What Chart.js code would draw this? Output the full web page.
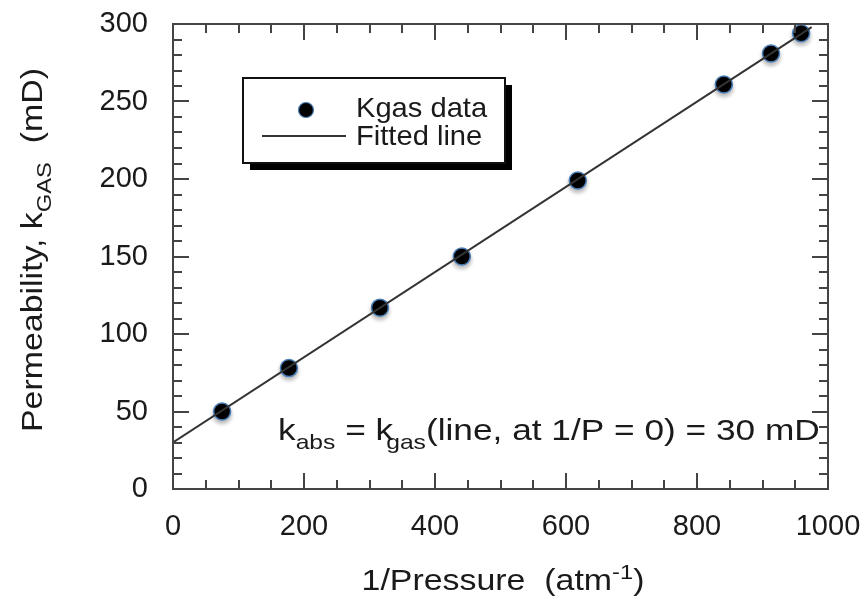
<!DOCTYPE html>
<html>
<head>
<meta charset="utf-8">
<script src="https://cdn.jsdelivr.net/npm/chart.js@4/dist/chart.umd.min.js"></script>
<style>
  html, body { margin: 0; padding: 0; background: #fff; }
  #wrap { width: 867px; height: 597px; }
</style>
</head>
<body>
<div id="wrap"><canvas id="chart-area"></canvas></div>
<script>
// data
var invPressure = [75, 177, 316, 441, 618, 841, 913, 959];
var kGas = [50, 78, 117, 150, 199, 261, 281, 294];
var fitX = [0, 975];
var fitY = [30, 298];
var xTicks = [0, 200, 400, 600, 800, 1000];
var yTicks = [0, 50, 100, 150, 200, 250, 300];
var legendLabels = ['Kgas data', 'Fitted line'];

var FONT = '"Liberation Sans", Arial, sans-serif';
var INK = '#1a1a1a';

function pairs(xs, ys) {
    return xs.map(function(x, i) { return {x: x, y: ys[i]}; });
}

// text with sub/superscripts: parts = [text, mode(0 normal,1 sub,2 sup), dx]
function drawRich(ctx, parts, size, sx, align) {
    var small = Math.round(size * 0.7);
    function fontOf(p) { return (p[1] ? small : size) + 'px ' + FONT; }
    var w = 0;
    parts.forEach(function(p) {
        ctx.font = fontOf(p);
        w += ctx.measureText(p[0]).width + (p[2] || 0);
    });
    ctx.save();
    ctx.scale(sx, 1);
    var cx = align === 'center' ? -w / 2 : 0;
    ctx.textBaseline = 'alphabetic';
    ctx.textAlign = 'left';
    parts.forEach(function(p) {
        ctx.font = fontOf(p);
        cx += (p[2] || 0);
        var dy = p[1] === 1 ? size * 0.3 : (p[1] === 2 ? -size * 0.38 : 0);
        ctx.fillText(p[0], cx, dy);
        cx += ctx.measureText(p[0]).width;
    });
    ctx.restore();
}

function noPad(scale) {
    scale.paddingLeft = 0;
    scale.paddingRight = 0;
    scale.paddingTop = 0;
    scale.paddingBottom = 0;
}

var decorPlugin = {
    id: 'decor',
    beforeDatasetDraw: function(chart, args) {
        if (args.index === 1) {
            var ctx = chart.ctx;
            ctx.save();
            ctx.shadowColor = 'rgba(0,0,0,0.28)';
            ctx.shadowBlur = 4;
            ctx.shadowOffsetY = 3;
        }
    },
    afterDatasetDraw: function(chart, args) {
        if (args.index === 1) chart.ctx.restore();
    },
    afterDraw: function(chart) {
        var ctx = chart.ctx;
        var a = chart.chartArea;
        var xs = chart.scales.x, ys = chart.scales.y;
        ctx.save();
        ctx.strokeStyle = '#444';
        ctx.lineWidth = 2;
        ctx.strokeRect(a.left, a.top, a.right - a.left, a.bottom - a.top);

        // inward ticks on all four sides
        ctx.beginPath();
        var v, px, len;
        for (v = 0; v <= 1000; v += 50) {
            px = Math.round(xs.getPixelForValue(v));
            len = v % 200 === 0 ? 16 : 9;
            ctx.moveTo(px, a.bottom); ctx.lineTo(px, a.bottom - len);
            ctx.moveTo(px, a.top); ctx.lineTo(px, a.top + len);
        }
        for (v = 0; v <= 300; v += 10) {
            px = Math.round(ys.getPixelForValue(v));
            len = v % 50 === 0 ? 16 : 9;
            ctx.moveTo(a.left, px); ctx.lineTo(a.left + len, px);
            ctx.moveTo(a.right, px); ctx.lineTo(a.right - len, px);
        }
        ctx.stroke();

        // legend box with drop shadow
        var bx = 243, by = 78, bw = 262, bh = 85;
        ctx.fillStyle = '#000';
        ctx.fillRect(bx + 7, by + 7, bw, bh);
        ctx.fillStyle = '#fff';
        ctx.fillRect(bx, by, bw, bh);
        ctx.strokeStyle = '#111';
        ctx.lineWidth = 2;
        ctx.strokeRect(bx, by, bw, bh);

        ctx.beginPath();
        ctx.arc(306, 110, 7.5, 0, Math.PI * 2);
        ctx.fillStyle = '#000';
        ctx.fill();
        ctx.strokeStyle = '#4a7fb8';
        ctx.lineWidth = 1.2;
        ctx.stroke();

        ctx.beginPath();
        ctx.strokeStyle = '#333';
        ctx.lineWidth = 2;
        ctx.moveTo(262, 136); ctx.lineTo(346, 136);
        ctx.stroke();

        ctx.fillStyle = INK;
        ctx.save(); ctx.translate(356, 117);
        drawRich(ctx, [[legendLabels[0], 0]], 28, 1.04, 'left');
        ctx.restore();
        ctx.save(); ctx.translate(356, 145);
        drawRich(ctx, [[legendLabels[1], 0]], 28, 1.04, 'left');
        ctx.restore();

        // annotation
        ctx.save(); ctx.translate(278, 440);
        drawRich(ctx, [['k', 0], ['abs', 1], [' = k', 0], ['gas', 1, -6],
            ['(line, at 1/P = 0) = 30 mD', 0]], 30, 1.175, 'left');
        ctx.restore();

        // axis titles
        ctx.save(); ctx.translate(503, 590);
        drawRich(ctx, [['1/Pressure  (atm', 0], ['-1', 2], [')', 0]], 30, 1.13, 'center');
        ctx.restore();

        ctx.save(); ctx.translate(42, 250); ctx.rotate(-Math.PI / 2);
        drawRich(ctx, [['Permeability, k', 0], ['GAS', 1], ['  (mD)', 0]], 30, 1.13, 'center');
        ctx.restore();

        ctx.restore();
    }
};

var config = {
    type: 'scatter',
    data: {
        datasets: [{
            label: legendLabels[1],
            type: 'line',
            data: pairs(fitX, fitY),
            borderColor: '#333',
            borderWidth: 2,
            pointRadius: 0,
            fill: false,
            tension: 0
        }, {
            label: legendLabels[0],
            data: pairs(invPressure, kGas),
            backgroundColor: '#000',
            borderColor: '#4a7fb8',
            borderWidth: 1.5,
            pointRadius: 8.5,
            pointHoverRadius: 8.5
        }]
    },
    options: {
        responsive: true,
        maintainAspectRatio: false,
        animation: false,
        layout: { padding: { left: 0, right: 39, top: 24, bottom: 0 } },
        plugins: {
            legend: { display: false },
            tooltip: { enabled: false }
        },
        scales: {
            x: {
                type: 'linear',
                min: 0,
                max: 1000,
                afterBuildTicks: function(scale) {
                    scale.ticks = xTicks.map(function(v) { return {value: v}; });
                },
                afterFit: function(scale) { scale.height = 108; noPad(scale); },
                grid: { display: false, drawTicks: false },
                border: { display: false },
                ticks: {
                    padding: 21,
                    maxRotation: 0,
                    color: INK,
                    font: { family: FONT, size: 29 },
                    callback: function(v) { return String(v); }
                }
            },
            y: {
                type: 'linear',
                min: 0,
                max: 300,
                afterBuildTicks: function(scale) {
                    scale.ticks = yTicks.map(function(v) { return {value: v}; });
                },
                afterFit: function(scale) { scale.width = 173; noPad(scale); },
                grid: { display: false, drawTicks: false },
                border: { display: false },
                ticks: {
                    padding: 25,
                    color: INK,
                    font: { family: FONT, size: 29 },
                    callback: function(v) { return String(v); }
                }
            }
        }
    },
    plugins: [decorPlugin]
};

window.onload = function() {
    var ctx = document.getElementById('chart-area').getContext('2d');
    window.kgasChart = new Chart(ctx, config);
};
</script>
</body>
</html>
